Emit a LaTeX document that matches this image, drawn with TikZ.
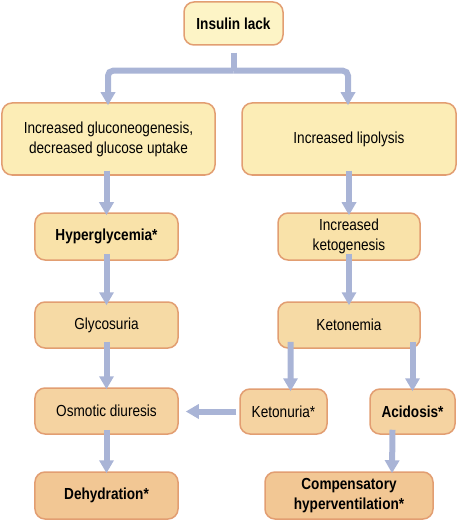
\documentclass[tikz,border=0pt]{standalone}
\usepackage{fontspec}
\setmainfont{Liberation Sans}[FakeStretch=0.85]
\usetikzlibrary{arrows.meta,calc}
\definecolor{bord}{HTML}{E29E72}
\definecolor{arrc}{HTML}{A9B4D6}
\definecolor{fA}{HTML}{FDF4C6}
\definecolor{fB}{HTML}{FCEDB6}
\definecolor{fC}{HTML}{F9E2A9}
\definecolor{fD}{HTML}{F6DAA5}
\definecolor{fE}{HTML}{F5D3A1}
\definecolor{fF}{HTML}{F2C794}
\tikzset{
  box/.style={draw=bord, line width=1.5bp, rounded corners=10bp, align=center,
    inner sep=0pt, font=\fontsize{16bp}{20bp}\selectfont},
  boldbox/.style={box, font=\fontsize{16bp}{20bp}\selectfont\bfseries},
  arr/.style={draw=arrc, line width=6bp, -{Triangle[width=14bp,length=13bp]}},
  bar/.style={draw=arrc, line width=6bp},
}
\begin{document}
\begin{tikzpicture}[x=1bp,y=-1bp]
\useasboundingbox (0,0) rectangle (457,520);
\node[boldbox, fill=fA, minimum width=99bp, minimum height=43bp] (lack) at (233.5,23.5) {Insulin lack};
\node[box, fill=fB, minimum width=213bp, minimum height=72bp] (gluco) at (108.5,139) {Increased gluconeogenesis,\\decreased glucose uptake};
\node[box, fill=fB, minimum width=214bp, minimum height=72bp] (lipo) at (349,139) {Increased lipolysis};
\node[boldbox, fill=fC, minimum width=143bp, minimum height=47bp] (hyper) at (106.5,236.5) {Hyperglycemia*};
\node[box, fill=fC, minimum width=142bp, minimum height=47bp] (keto) at (349,236.5) {Increased\\ketogenesis};
\node[box, fill=fD, minimum width=143bp, minimum height=46bp] (glycos) at (106.5,325) {Glycosuria};
\node[box, fill=fD, minimum width=142bp, minimum height=46bp] (ketonemia) at (349,325) {Ketonemia};
\node[box, fill=fE, minimum width=143bp, minimum height=46bp] (osm) at (106.5,411) {Osmotic diuresis};
\node[box, fill=fE, minimum width=87bp, minimum height=45bp] (ketonuria) at (283.5,411.5) {Ketonuria*};
\node[boldbox, fill=fE, minimum width=85bp, minimum height=45bp] (acid) at (412.5,411.5) {Acidosis*};
\node[boldbox, fill=fF, minimum width=143bp, minimum height=47bp] (dehyd) at (106.5,495.5) {Dehydration*};
\node[boldbox, fill=fF, minimum width=168bp, minimum height=47bp] (comp) at (349,495.5) {Compensatory\\hyperventilation*};
% top branch
\coordinate (split) at ($(lack.south)+(0,25)$);
\draw[bar] ($(lack.south)+(0,7)$) -- (split);
\draw[arr, rounded corners=5bp] (split) -| ([xshift=-0.5bp,yshift=-3bp]gluco.north);
\draw[arr, rounded corners=5bp] (split) -| ([xshift=-1bp,yshift=-3bp]lipo.north);
% vertical arrows
\draw[arr] ([yshift=5bp]gluco.south -| hyper.north) -- ([yshift=-3bp]hyper.north);
\draw[arr] ([yshift=5bp]lipo.south) -- ([yshift=-3bp]keto.north);
\draw[arr] ([yshift=7bp]hyper.south) -- ([yshift=-4bp]glycos.north);
\draw[arr] ([yshift=7bp]keto.south) -- ([yshift=-4bp]ketonemia.north);
\draw[arr] ([yshift=7bp]glycos.south) -- ([yshift=-2bp]osm.north);
\draw[arr] ([yshift=7bp]ketonemia.south -| ketonuria.north) ++(7,0) -- ([xshift=7bp,yshift=-3bp]ketonuria.north);
\draw[arr] ([yshift=7bp]ketonemia.south -| acid.north) -- ([yshift=-3bp]acid.north);
\draw[arr] ([yshift=5bp]osm.south) -- ([yshift=-2bp]dehyd.north);
\draw[arr] ([xshift=-20bp,yshift=5bp]acid.south) -- ([xshift=43bp,yshift=-2bp]comp.north);
% horizontal arrow
\draw[arr] ([xshift=-3bp]ketonuria.west) -- ([xshift=7bp]osm.east |- ketonuria.west);
\end{tikzpicture}
\end{document}
